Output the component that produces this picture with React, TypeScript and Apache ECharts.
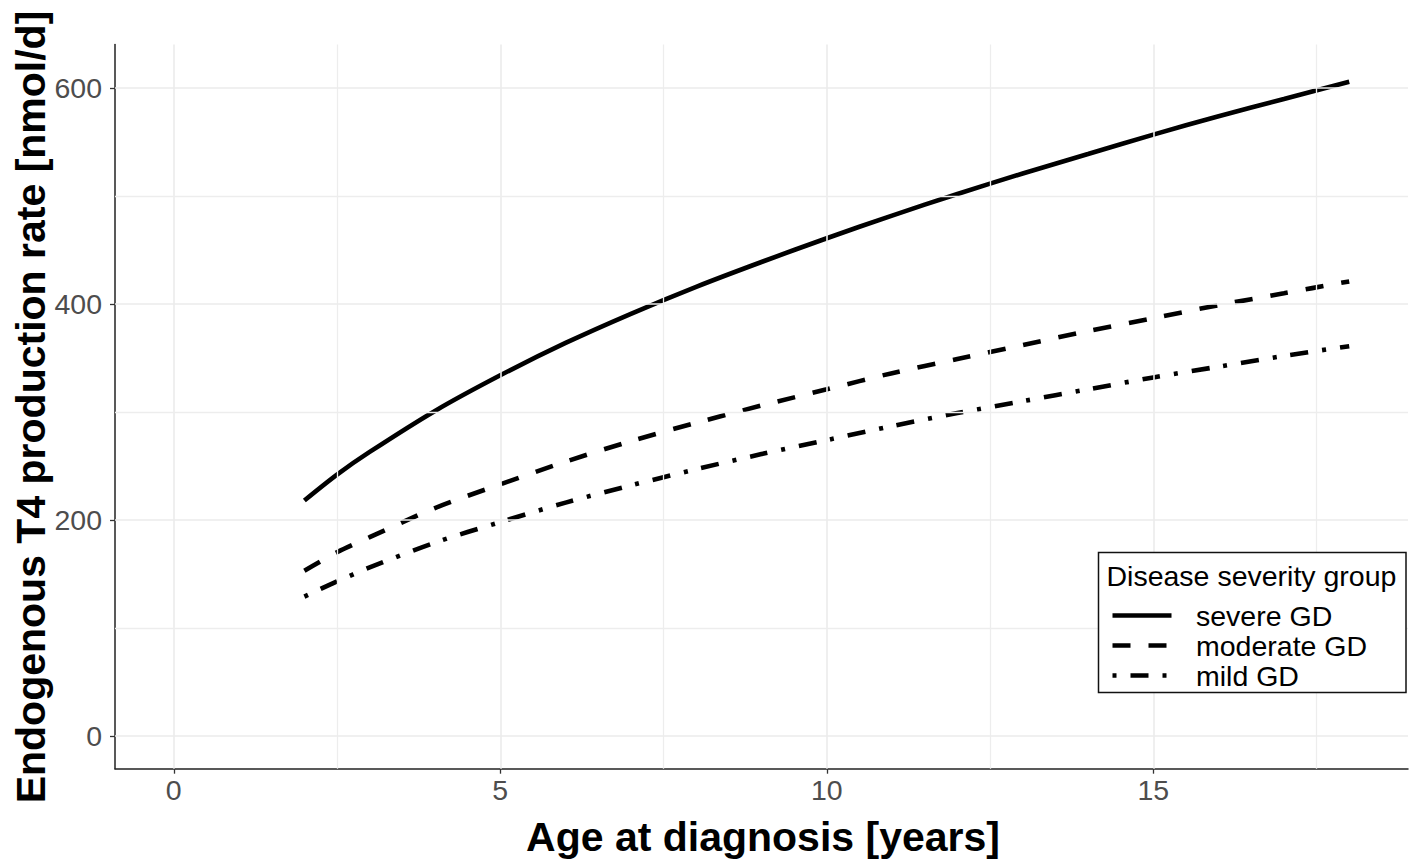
import React, { useEffect, useRef } from "react";
import * as echarts from "echarts";

// Age at diagnosis [years]
const ages = [2, 2.5, 3, 4, 5, 6, 7, 8, 9, 10, 11, 12, 13, 14, 15, 16, 17, 18];
// Endogenous T4 production rate [nmol/d]
const severeGD = [218, 242, 263, 301, 334, 364, 391, 416, 439, 461, 482, 502, 521, 539, 557, 574, 590, 606];
const moderateGD = [153, 170, 184, 211, 233, 254, 273, 290, 306, 321, 336, 349, 362, 375, 387, 399, 410, 421];
const mildGD = [129, 143, 156, 179, 198, 216, 232, 247, 261, 274, 287, 299, 310, 321, 332, 342, 352, 361];

const seriesNames = ["severe GD", "moderate GD", "mild GD"];
const xTicks = [0, 5, 10, 15];
const xMinorTicks = [2.5, 7.5, 12.5, 17.5];
const yTicks = [0, 200, 400, 600];
const yMinorTicks = [100, 300, 500];

const FONT = '"Liberation Sans", Arial, Helvetica, sans-serif';
const dashes: (number[] | "solid")[] = ["solid", [18, 18], [4, 14, 18, 14]];

export default function App() {
  const ref = useRef<HTMLDivElement>(null);
  useEffect(() => {
    if (!ref.current) return;
    const chart = echarts.init(ref.current, undefined, { renderer: "svg" });
    const toPairs = (vals: number[]) => ages.map((a, i) => [a, vals[i]]);
    const allSeries = [severeGD, moderateGD, mildGD];

    const gridMajor = { color: "#EBEBEB", width: 1.6, type: "solid" };
    const gridMinor = { color: "#EDEDED", width: 1.3, type: "solid" };
    const markData: any[] = [
      ...xTicks.map((v) => ({ xAxis: v, lineStyle: gridMajor })),
      ...xMinorTicks.map((v) => ({ xAxis: v, lineStyle: gridMinor })),
      ...yTicks.map((v) => ({ yAxis: v, lineStyle: gridMajor })),
      ...yMinorTicks.map((v) => ({ yAxis: v, lineStyle: gridMinor })),
    ];

    const legendX1 = 1112.5;
    const legendX2 = 1171.5;
    const legendYs = [615.5, 645.5, 675.5];

    chart.setOption({
      animation: false,
      backgroundColor: "#ffffff",
      grid: { left: 115, right: 9, top: 44.5, bottom: 93.3, containLabel: false },
      xAxis: {
        type: "value",
        min: -0.9,
        max: 18.9,
        splitLine: { show: false },
        axisLine: { show: true, onZero: false, lineStyle: { color: "#222", width: 1.5 } },
        axisTick: { show: true, customValues: xTicks, length: 5, lineStyle: { color: "#333", width: 1.3 } },
        axisLabel: {
          customValues: xTicks,
          fontSize: 28.5,
          fontFamily: FONT,
          color: "#4D4D4D",
          margin: 7,
        },
      },
      yAxis: {
        type: "value",
        min: -30.5,
        max: 640.5,
        splitLine: { show: false },
        axisLine: { show: true, onZero: false, lineStyle: { color: "#222", width: 1.5 } },
        axisTick: { show: true, customValues: yTicks, length: 5, lineStyle: { color: "#333", width: 1.3 } },
        axisLabel: {
          customValues: yTicks,
          fontSize: 28.5,
          fontFamily: FONT,
          color: "#4D4D4D",
          margin: 13,
          padding: [4, 0, 0, 0],
        },
      },
      series: [
        {
          type: "line",
          name: "grid",
          data: [],
          silent: true,
          z: 1,
          markLine: {
            silent: true,
            symbol: ["none", "none"],
            label: { show: false },
            animation: false,
            data: markData,
          },
        },
        ...allSeries.map((vals, i) => ({
          type: "line",
          name: seriesNames[i],
          data: toPairs(vals),
          smooth: 0.3,
          showSymbol: false,
          symbol: "none",
          z: 3,
          lineStyle: { color: "#000", width: 4.6, type: dashes[i], cap: "butt" },
        })),
      ],
      graphic: [
        {
          type: "text",
          x: 763,
          y: 837.2,
          style: {
            text: "Age at diagnosis [years]",
            font: `bold 41px ${FONT}`,
            fill: "#000",
            align: "center",
            verticalAlign: "middle",
          },
        },
        {
          type: "text",
          x: 30.5,
          y: 407,
          rotation: Math.PI / 2,
          style: {
            text: "Endogenous T4 production rate [nmol/d]",
            font: `bold 41px ${FONT}`,
            fill: "#000",
            align: "center",
            verticalAlign: "middle",
          },
        },
        {
          type: "rect",
          shape: { x: 1098.5, y: 552.5, width: 307.5, height: 140 },
          style: { fill: "#fff", stroke: "#111", lineWidth: 1.5 },
          z: 10,
        },
        {
          type: "text",
          x: 1106.5,
          y: 575.5,
          z: 11,
          style: {
            text: "Disease severity group",
            font: `28.5px ${FONT}`,
            fill: "#000",
            align: "left",
            verticalAlign: "middle",
          },
        },
        ...seriesNames.map((name, i) => ({
          type: "line",
          z: 11,
          shape: { x1: legendX1, y1: legendYs[i], x2: legendX2, y2: legendYs[i] },
          style: {
            stroke: "#000",
            lineWidth: 4.6,
            lineDash: dashes[i] === "solid" ? null : dashes[i],
            lineCap: "butt",
          },
        })),
        ...seriesNames.map((name, i) => ({
          type: "text",
          z: 11,
          x: 1196,
          y: legendYs[i] + 0.5,
          style: {
            text: name,
            font: `28.5px ${FONT}`,
            fill: "#000",
            align: "left",
            verticalAlign: "middle",
          },
        })),
      ],
    });
    return () => chart.dispose();
  }, []);

  return (
    <div
      ref={ref}
      style={{ position: "fixed", left: 0, top: 0, width: 1417, height: 862, background: "#fff" }}
    />
  );
}
